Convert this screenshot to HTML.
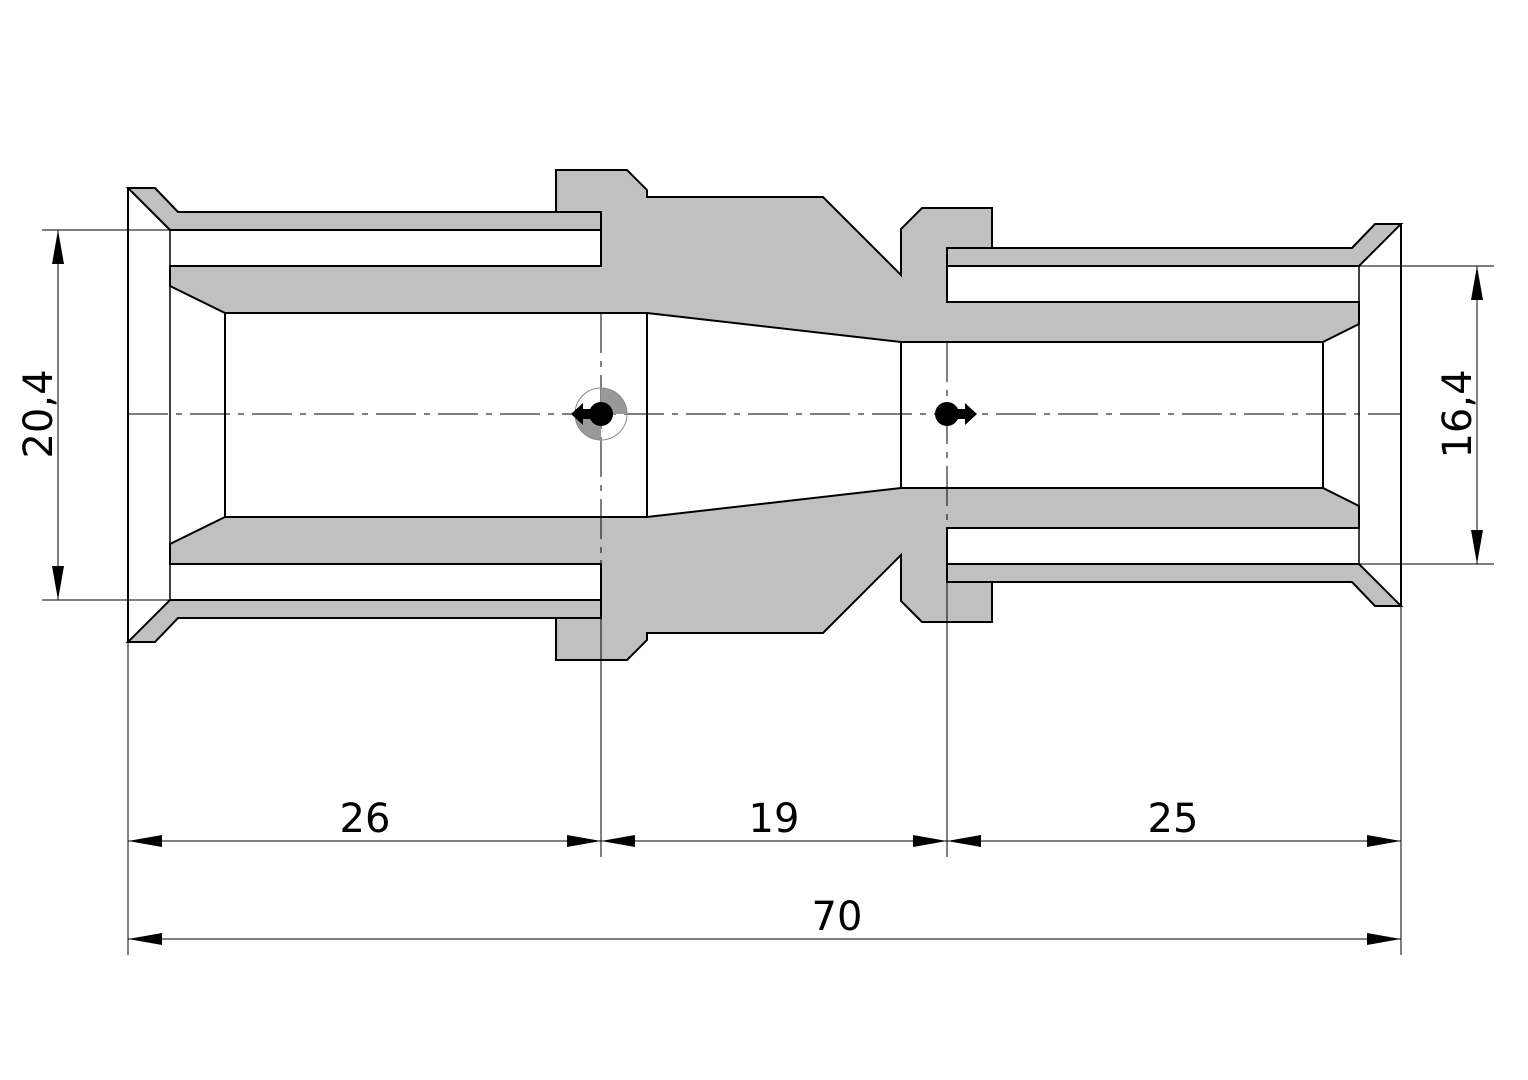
<!DOCTYPE html>
<html><head><style>html,body{margin:0;padding:0;background:#fff}svg{display:block}</style></head>
<body>
<svg width="1528" height="1080" viewBox="0 0 1528 1080" xmlns="http://www.w3.org/2000/svg">
<defs>
<g id="half" stroke="#000" stroke-width="2" stroke-linejoin="miter">
<polygon fill="#c0c0c0" points="128,188 155,188 178,212 601,212 601,230 170,230"/>
<polygon fill="#c0c0c0" points="556,212 556,170 627,170 647,190 647,197 823,197 901,275 901,229 922,208 992,208 992,248 947,248 947,302 1359,302 1359,324 1323,342 901,342 647,313 225,313 170,286 170,266 601,266 601,212"/>
<polygon fill="#c0c0c0" points="947,248 1352,248 1375,224 1401,224 1359,266 947,266"/>
<line x1="128" y1="188" x2="128" y2="415"/>
<line x1="170" y1="230" x2="170" y2="415" stroke-width="1.5"/>
<line x1="1401" y1="224" x2="1401" y2="415"/>
<line x1="1359" y1="266" x2="1359" y2="415" stroke-width="1.5"/>
<line x1="225" y1="313" x2="225" y2="415"/>
<line x1="647" y1="313" x2="647" y2="415"/>
<line x1="901" y1="342" x2="901" y2="415"/>
<line x1="1323" y1="342" x2="1323" y2="415"/>
</g>
<marker id="a" viewBox="0 0 34 12" refX="34" refY="6" markerWidth="34" markerHeight="12" markerUnits="userSpaceOnUse" orient="auto-start-reverse"><path d="M0,0 L34,6 L0,12 Z" fill="#000"/></marker>
</defs>
<use href="#half"/>
<use href="#half" transform="translate(0,830) scale(1,-1)"/>
<g stroke="#000" stroke-width="1" fill="none">
<line x1="128" y1="414" x2="1401" y2="414" stroke-dasharray="40,8,6,8"/>
<line x1="601" y1="313" x2="601" y2="560" stroke-dasharray="40,8,6,8"/>
<line x1="601" y1="560" x2="601" y2="857"/>
<line x1="947" y1="342" x2="947" y2="540" stroke-dasharray="40,8,6,8"/>
<line x1="947" y1="540" x2="947" y2="857"/>
<line x1="128" y1="641" x2="128" y2="955"/>
<line x1="1401" y1="606" x2="1401" y2="955"/>
<line x1="42" y1="230" x2="170" y2="230"/>
<line x1="42" y1="600" x2="170" y2="600"/>
<line x1="1359" y1="266" x2="1494" y2="266"/>
<line x1="1359" y1="564" x2="1494" y2="564"/>
<line x1="128" y1="841" x2="601" y2="841" marker-start="url(#a)" marker-end="url(#a)"/>
<line x1="601" y1="841" x2="947" y2="841" marker-start="url(#a)" marker-end="url(#a)"/>
<line x1="947" y1="841" x2="1401" y2="841" marker-start="url(#a)" marker-end="url(#a)"/>
<line x1="128" y1="939" x2="1401" y2="939" marker-start="url(#a)" marker-end="url(#a)"/>
<line x1="58" y1="230" x2="58" y2="600" marker-start="url(#a)" marker-end="url(#a)"/>
<line x1="1477" y1="266" x2="1477" y2="564" marker-start="url(#a)" marker-end="url(#a)"/>
</g>
<path d="M601,388 A26,26 0 0 1 627,414 L601,414 Z" fill="#999"/>
<path d="M601,440 A26,26 0 0 1 575,414 L601,414 Z" fill="#999"/>
<circle cx="601" cy="414" r="26" fill="none" stroke="#888" stroke-width="1"/>
<circle cx="601" cy="414" r="12" fill="#000"/>
<polygon points="571,414 583,403 583,409 595,409 595,419 583,419 583,425" fill="#000"/>
<circle cx="947" cy="414" r="12" fill="#000"/>
<polygon points="977,414 965,403 965,409 953,409 953,419 965,419 965,425" fill="#000"/>
<g font-family="'DejaVu Sans','Liberation Sans',sans-serif" font-size="40" fill="#000" text-anchor="middle">
<text x="365" y="832">26</text>
<text x="774" y="832">19</text>
<text x="1173" y="832">25</text>
<text x="837" y="930">70</text>
<text transform="translate(52,414) rotate(-90)">20,4</text>
<text transform="translate(1471,414) rotate(-90)">16,4</text>
</g>
</svg>
</body></html>
